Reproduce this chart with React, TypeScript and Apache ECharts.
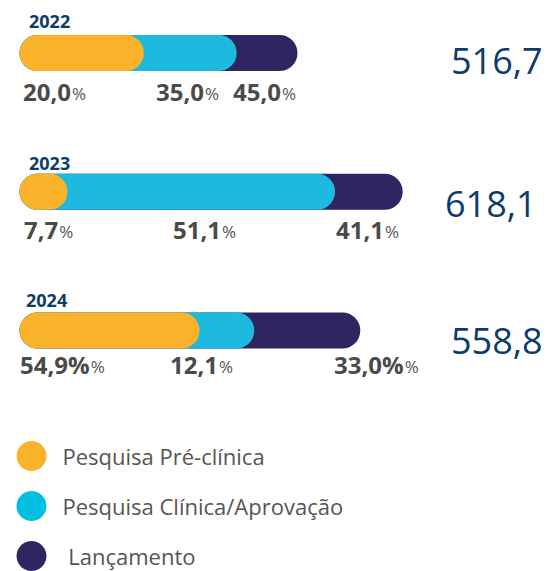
import React, { useEffect, useRef } from "react";
import * as echarts from "echarts";

const years = ["2022", "2023", "2024"];
const seriesNames = ["Pesquisa Pré-clínica", "Pesquisa Clínica/Aprovação", "Lançamento"];
// visual segment lengths of each bar (as drawn in the picture, arbitrary units)
const preClinica = [31.1, 12.0, 45.0];
const clinica = [23.2, 66.9, 13.7];
const lancamento = [15.2, 16.9, 26.5];
// printed labels
const preLabels = ["20,0", "7,7", "54,9%"];
const clinLabels = ["35,0", "51,1", "12,1"];
const lancLabels = ["45,0", "41,1", "33,0%"];
const totals = ["516,7", "618,1", "558,8"];

const colors = ["#FAB22B", "#1DB9DE", "#2F2560"];
const legendColors = ["#FAB22B", "#00BFE0", "#2F2560"];
const FONT = "'Open Sans', 'Noto Sans', sans-serif";

// layout (pixels)
const yearPos = [
  [29, 21],
  [29, 163],
  [26, 300],
];
const labelPos = [
  [[23, 88], [156, 88], [233, 88]],
  [[24, 226], [173, 226], [336, 226]],
  [[20, 361], [170, 361], [334, 361]],
];
const totalPos = [
  [451, 60],
  [445, 203],
  [451, 340],
];

export default function App() {
  const ref = useRef<HTMLDivElement>(null);
  useEffect(() => {
    if (!ref.current) return;
    const chart = echarts.init(ref.current, null, { renderer: "svg" });
    const cum1 = preClinica.map((v) => v);
    const cum2 = preClinica.map((v, i) => v + clinica[i]);
    const cum3 = preClinica.map((v, i) => v + clinica[i] + lancamento[i]);

    const graphics: any[] = [];
    years.forEach((y, i) => {
      graphics.push({
        type: "text",
        x: yearPos[i][0],
        y: yearPos[i][1],
        style: {
          text: y,
          font: `bold 18px ${FONT}`,
          fill: "#0E3C6A",
          textAlign: "left",
          textVerticalAlign: "middle",
        },
      });
      const labs = [preLabels[i], clinLabels[i], lancLabels[i]];
      labs.forEach((l, j) => {
        graphics.push({
          type: "text",
          x: labelPos[i][j][0],
          y: labelPos[i][j][1],
          style: {
            text: `{b|${l}}{p|%}`,
            textAlign: "left",
            textVerticalAlign: "middle",
            rich: {
              b: { fontFamily: FONT, fontWeight: "bold", fontSize: 24, fill: "#4A4A4A", color: "#4A4A4A", verticalAlign: "bottom", lineHeight: 30 },
              p: { fontFamily: FONT, fontWeight: "normal", fontSize: 17, fill: "#555555", color: "#555555", verticalAlign: "bottom", lineHeight: 30, padding: [0, 0, 1, 1] },
            },
          },
        });
      });
      graphics.push({
        type: "text",
        x: totalPos[i][0],
        y: totalPos[i][1],
        style: {
          text: totals[i],
          font: `normal 36px ${FONT}`,
          fill: "#0E3C6A",
          textAlign: "left",
          textVerticalAlign: "middle",
        },
      });
    });

    chart.setOption({
      animation: false,
      grid: { left: 19.5, top: 53, width: 400, height: 277.5, containLabel: false },
      xAxis: { type: "value", min: 0, max: 100, show: false },
      yAxis: { type: "category", data: years, inverse: true, boundaryGap: false, show: false },
      legend: {
        data: seriesNames.map((n, i) => ({ name: n, itemStyle: { color: legendColors[i] } })),
        orient: "vertical",
        left: 16.5,
        top: 441,
        padding: 0,
        itemWidth: 30,
        itemHeight: 30,
        itemGap: 20,
        icon: "circle",
        selectedMode: false,
        formatter: (n: string) => (n === "Lançamento" ? " " + n : n),
        textStyle: { fontFamily: FONT, fontSize: 22, color: "#555555", padding: [0, 0, 0, 11] },
      },
      series: [
        {
          name: seriesNames[2],
          type: "bar",
          data: cum3,
          barWidth: 36,
          barGap: "-100%",
          itemStyle: { color: colors[2], borderRadius: 18 },
        },
        {
          name: seriesNames[1],
          type: "bar",
          data: cum2,
          barWidth: 36,
          barGap: "-100%",
          itemStyle: { color: colors[1], borderRadius: 18 },
        },
        {
          name: seriesNames[0],
          type: "bar",
          data: cum1,
          barWidth: 36,
          barGap: "-100%",
          itemStyle: { color: colors[0], borderRadius: 18 },
        },
      ],
      graphic: graphics,
    });
    return () => chart.dispose();
  }, []);
  return <div ref={ref} style={{ width: 554, height: 640, position: "absolute", left: 0, top: 0 }} />;
}
